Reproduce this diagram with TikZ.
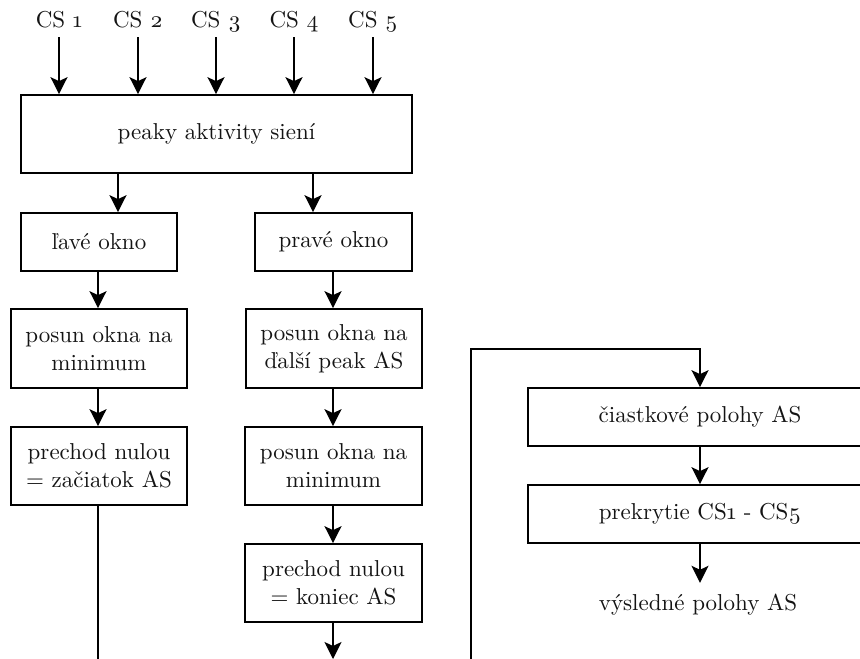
\documentclass[tikz,border=0pt]{standalone}
\usepackage{fontspec}
\setmainfont{lmroman10-regular.otf}
\usetikzlibrary{arrows.meta}
\newcommand{\osn}[1]{\oldstylenums{#1}}
\begin{document}
\begin{tikzpicture}[x=1pt,y=-1pt,
  every node/.style={font=\fontsize{23}{28}\selectfont, text=black!92},
  box/.style={draw, line width=1.7pt, align=center, inner sep=0pt},
  arr/.style={-{Stealth[length=17pt,width=17pt,inset=4pt]}, line width=1.7pt},
  ln/.style={line width=1.7pt},
  lab/.style={inner sep=0pt, anchor=base, text depth=10pt}]
\clip (0,0) rectangle (860,659);
\fill[white] (0,0) rectangle (860,659);
% input labels
\node[lab] (cs1) at (59,27) {CS \osn{1}};
\node[lab] (cs2) at (138,27) {CS \osn{2}};
\node[lab] (cs3) at (216,27) {CS \osn{3}};
\node[lab] (cs4) at (294,27) {CS \osn{4}};
\node[lab] (cs5) at (373,27) {CS \osn{5}};
% main box
\node[box, minimum width=391pt, minimum height=78pt] (peaks) at (216.5,134) {peaky aktivity siení};
% left column
\node[box, minimum width=156pt, minimum height=58pt] (lwin) at (99,242) {ľavé okno};
\node[box, minimum width=176pt, minimum height=79pt] (lmin) at (99,348.5) {posun okna na\\minimum};
\node[box, minimum width=176pt, minimum height=78pt] (lzero) at (99,466) {prechod nulou\\= začiatok AS};
% right column
\node[box, minimum width=157pt, minimum height=58pt] (rwin) at (333.5,242) {pravé okno};
\node[box, minimum width=176pt, minimum height=79pt] (rnext) at (334,348.5) {posun okna na\\ďalší peak AS};
\node[box, minimum width=177pt, minimum height=78pt] (rmin) at (333.5,466) {posun okna na\\minimum};
\node[box, minimum width=177pt, minimum height=78pt] (rzero) at (333.5,583) {prechod nulou\\= koniec AS};
% right part
\node[box, minimum width=344pt, minimum height=58pt] (part) at (700,417) {čiastkové polohy AS};
\node[box, minimum width=344pt, minimum height=58pt] (over) at (700,514) {prekrytie CS\osn{1} - CS\osn{5}};
\node[inner sep=0pt, minimum height=44pt] (res) at (698,605) {výsledné polohy AS};
% coordinates
\coordinate (lend) at (98,662);
\coordinate (rend) at (333,659);
\coordinate (start) at (471,662);
\coordinate (corner1) at (471,349);
\coordinate (corner2) at (700,349);
% connectors
\foreach \i in {1,...,5} {
  \draw[arr] (cs\i.south) -- (cs\i.south |- peaks.north);
}
\draw[arr] (peaks.south -| 118,0) -- (lwin.north -| 118,0);
\draw[arr] (peaks.south -| 313,0) -- (rwin.north -| 313,0);
\draw[arr] (lwin.south -| 98,0) -- (lmin.north -| 98,0);
\draw[arr] (lmin.south -| 98,0) -- (lzero.north -| 98,0);
\draw[ln] (lzero.south -| 98,0) -- (lend);
\draw[arr] (rwin.south -| 333,0) -- (rnext.north -| 333,0);
\draw[arr] (rnext.south -| 333,0) -- (rmin.north -| 333,0);
\draw[arr] (rmin.south -| 333,0) -- (rzero.north -| 333,0);
\draw[arr] (rzero.south -| 333,0) -- (rend);
\draw[arr] (start) -- (corner1) -- (corner2) -- (part.north -| corner2);
\draw[arr] (part.south -| 700,0) -- (over.north -| 700,0);
\draw[arr] (over.south -| 700,0) -- (res.north -| 700,0);
\end{tikzpicture}
\end{document}
